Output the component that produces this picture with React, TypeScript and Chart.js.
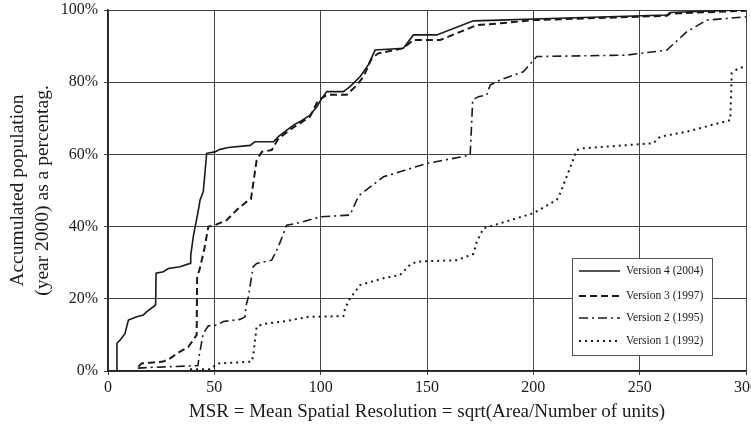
import React, { useEffect, useRef } from "react";
import { Chart, registerables } from "chart.js";

Chart.register(...registerables);

const seriesLabels = ["Version 4 (2004)", "Version 3 (1997)", "Version 2 (1995)", "Version 1 (1992)"];

const v4X = [4.1, 4.2, 6, 8, 9.6, 13.5, 16.6, 18, 21.3, 22.4, 22.6, 26, 28.4, 33.9, 38.6, 38.9, 40.1, 42.5, 43.3, 44.8, 46.4, 50.3, 52.7, 56.6, 66.8, 69.1, 77.8, 80.1, 87.2, 90.3, 95, 98.2, 100.5, 102.9, 110.7, 113.8, 118.5, 122.4, 125.6, 138.9, 143.6, 154.6, 171.8, 184.4, 200, 262.8, 264.3, 297.3, 300];
const v4Y = [0, 7.7, 8.8, 10.4, 14.1, 15, 15.5, 16.3, 17.8, 18.3, 27.1, 27.5, 28.4, 28.9, 29.8, 32, 37.2, 44.6, 47.4, 49.7, 60.3, 60.7, 61.4, 61.9, 62.5, 63.5, 63.5, 64.9, 68.1, 69.1, 70.9, 73.2, 75.5, 77.4, 77.4, 78.8, 81.5, 84.8, 88.9, 89.4, 93.1, 93.1, 97, 97.2, 97.5, 98.6, 99.3, 100, 100];

const v3X = [14.3, 15.8, 19.8, 26, 29.2, 33.9, 37.8, 40.1, 41.7, 41.9, 43, 45.2, 47.2, 50.3, 55.8, 60.5, 65.2, 67.2, 69.9, 72.3, 77, 80.1, 87.2, 90.3, 95, 98.9, 102.9, 112.3, 117, 120.1, 124, 127.1, 138.9, 143.6, 156.2, 173.4, 184.4, 200, 262.8, 264.3, 300];
const v3Y = [1.2, 2.1, 2.3, 2.6, 3.5, 5.4, 6.7, 8.6, 10, 26.1, 28, 33.5, 40, 40.4, 41.8, 44.6, 46.9, 47.6, 58.4, 60.7, 61.2, 64.4, 67.5, 68.6, 70.5, 75, 76.5, 76.5, 79.2, 81.5, 86.6, 88, 89.4, 91.7, 91.7, 95.8, 96.3, 97.2, 98.4, 99, 99.8];

const v2X = [14, 20, 30, 42.3, 42.8, 44.8, 47.2, 51.1, 54.2, 62.1, 64.4, 64.9, 66, 68.3, 69.9, 77, 80.1, 84, 90.3, 99.7, 113.8, 117, 118.5, 129.5, 137.3, 149.9, 170.3, 171.5, 174.2, 178.1, 179.7, 184.4, 195.3, 201.6, 243.9, 262.8, 272.2, 281.6, 300];
const v2Y = [0.8, 1.0, 1.2, 1.5, 4, 10.4, 12.5, 12.7, 13.7, 14.3, 15, 18, 20.6, 28.9, 29.8, 30.7, 34.4, 40.4, 41.1, 42.7, 43.2, 47.4, 48.8, 53.8, 55.2, 57.5, 59.8, 75.1, 76, 76.5, 79.2, 80.6, 82.9, 87.1, 87.5, 88.9, 94, 97.2, 98.1];

const v1X = [38.6, 48, 51.7, 59, 67.6, 68.3, 69.9, 73, 82.4, 94.2, 110.7, 111.5, 113.8, 118.5, 129.5, 137.3, 142, 145.2, 164, 171.8, 173.4, 176.5, 184.4, 200, 211, 212.6, 220.5, 223.6, 256.5, 259.6, 272.2, 292.6, 293.3, 296.5, 300];
const v1Y = [0.5, 0.5, 2.1, 2.3, 2.6, 4.4, 12.3, 13, 13.7, 15, 15.2, 17.4, 20.1, 23.8, 25.7, 26.6, 29.4, 30.3, 30.7, 32.4, 35.8, 39.5, 40.9, 43.7, 47.4, 49.2, 61.2, 61.7, 63.1, 64.9, 66.3, 69.5, 82.5, 83.9, 84.3];

const xTicks = [0, 50, 100, 150, 200, 250, 300];
const yTicks = [0, 20, 40, 60, 80, 100];

const FONT = "'Liberation Serif', 'Times New Roman', serif";
const INK = "#1a1a1a";

const dashes: number[][] = [[], [7, 4], [9, 4, 2, 4], [2, 4]];
const widths = [1.6, 2, 1.6, 2];

const zip = (xs: number[], ys: number[]) => xs.map((x, i) => ({ x, y: ys[i] }));

const legendPlugin = {
  id: "boxLegend",
  afterDraw(chart: any) {
    const { ctx, chartArea } = chart;
    const left = chartArea.right - 174;
    const top = chartArea.bottom - 113;
    const w = 140;
    const h = 97;
    ctx.save();
    ctx.fillStyle = "#ffffff";
    ctx.fillRect(left, top, w, h);
    ctx.strokeStyle = "#555";
    ctx.lineWidth = 1;
    ctx.strokeRect(left + 0.5, top + 0.5, w, h);
    const rows = [13, 38, 60, 83];
    ctx.font = `11.5px ${FONT}`;
    ctx.textBaseline = "middle";
    ctx.textAlign = "left";
    seriesLabels.forEach((lab, i) => {
      const y = top + rows[i];
      ctx.beginPath();
      ctx.setLineDash(dashes[i]);
      ctx.lineWidth = widths[i];
      ctx.strokeStyle = INK;
      ctx.moveTo(left + 7, y);
      ctx.lineTo(left + 48, y);
      ctx.stroke();
      ctx.setLineDash([]);
      ctx.fillStyle = INK;
      ctx.fillText(lab, left + 54, y);
    });
    ctx.restore();
  },
};

export default function App() {
  const ref = useRef<HTMLCanvasElement>(null);
  useEffect(() => {
    document.body.style.margin = "0";
    const canvas = ref.current!;
    const seriesData = [zip(v4X, v4Y), zip(v3X, v3Y), zip(v2X, v2Y), zip(v1X, v1Y)];
    const chart = new Chart(canvas, {
      type: "line",
      data: {
        datasets: seriesData.map((d, i) => ({
          label: seriesLabels[i],
          data: d,
          borderColor: INK,
          borderWidth: widths[i],
          borderDash: dashes[i],
          pointRadius: 0,
          tension: 0,
          fill: false,
        })),
      },
      options: {
        animation: false,
        responsive: false,
        maintainAspectRatio: false,
        layout: { padding: { top: 10, right: 5, left: 0, bottom: 0 } },
        plugins: { legend: { display: false }, tooltip: { enabled: false } },
        scales: {
          x: {
            type: "linear",
            min: 0,
            max: 300,
            afterBuildTicks: (s: any) => {
              s.ticks = xTicks.map((v) => ({ value: v }));
            },
            afterFit: (s: any) => {
              s.height = 56;
              s.paddingLeft = 0;
              s.paddingRight = 0;
            },
            grid: { color: "#444", lineWidth: 1, tickLength: 4, drawTicks: true },
            border: { color: "#222", width: 1.5 },
            ticks: { color: INK, font: { family: FONT, size: 16 }, padding: 3, maxRotation: 0 },
            title: {
              display: true,
              text: "MSR = Mean Spatial Resolution = sqrt(Area/Number of units)",
              color: INK,
              font: { family: FONT, size: 19 },
              padding: { top: 4, bottom: 4 },
            },
          },
          y: {
            type: "linear",
            min: 0,
            max: 100,
            afterBuildTicks: (s: any) => {
              s.ticks = yTicks.map((v) => ({ value: v }));
            },
            afterFit: (s: any) => {
              s.width = 108;
              s.paddingTop = 0;
              s.paddingBottom = 0;
            },
            grid: { color: "#444", lineWidth: 1, tickLength: 4 },
            border: { color: "#222", width: 1.5 },
            ticks: {
              color: INK,
              font: { family: FONT, size: 16 },
              padding: 6,
              callback: (v: any) => `${v}%`,
            },
            title: {
              display: true,
              text: ["Accumulated population", "(year 2000) as a percentag."],
              color: INK,
              font: { family: FONT, size: 19.5, lineHeight: 1.3 },
              padding: { top: 5, bottom: 0 },
            },
          },
        },
      },
      plugins: [legendPlugin],
    } as any);
    return () => chart.destroy();
  }, []);
  return (
    <div style={{ position: "absolute", left: 0, top: 0, width: 751, height: 427, background: "#fff" }}>
      <canvas ref={ref} width={751} height={427} style={{ width: 751, height: 427, display: "block" }} />
    </div>
  );
}
